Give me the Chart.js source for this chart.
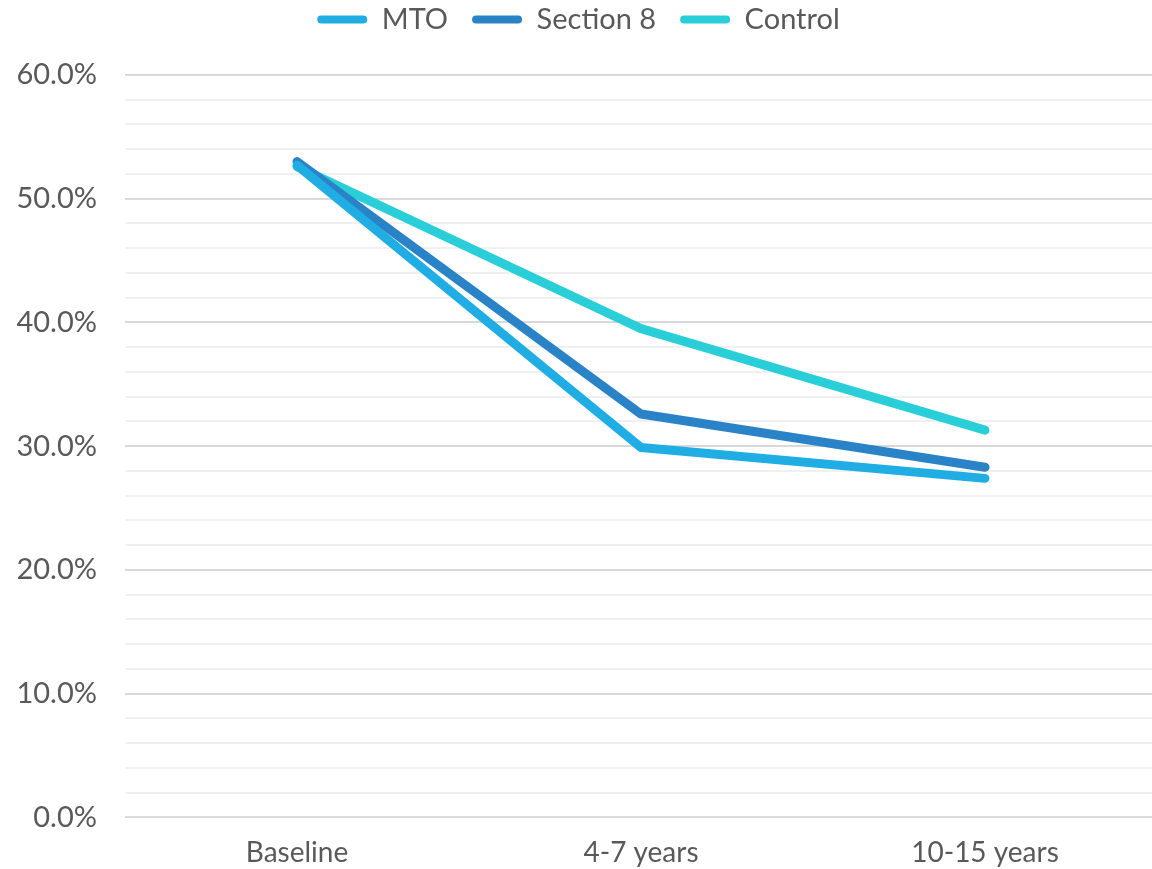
<!DOCTYPE html>
<html>
<head>
<meta charset="utf-8">
<script src="https://cdn.jsdelivr.net/npm/chart.js@4/dist/chart.umd.min.js"></script>
<style>
  html, body { margin: 0; padding: 0; background: #ffffff; overflow: hidden; }
  #wrap { width: 1152px; height: 869px; position: relative; overflow: hidden; }
  #chart { position: absolute; left: 0; top: -20px; }
</style>
</head>
<body>
<div id="wrap"><canvas id="chart" width="1160" height="909"></canvas></div>
<script>
// Share of households at each follow-up point, by voucher group
const categories = ['Baseline', '4-7 years', '10-15 years'];
const mtoValues = [52.7, 29.9, 27.4];
const section8Values = [53.0, 32.6, 28.3];
const controlValues = [52.6, 39.5, 31.3];
const seriesNames = ['MTO', 'Section 8', 'Control'];
const seriesColors = ['#1FADE4', '#2A83C7', '#2ACED9'];

const FONT = 'Lato, "Open Sans", sans-serif';
const TEXT = '#595959';

const ds = [mtoValues, section8Values, controlValues].map((vals, i) => ({
  label: seriesNames[i],
  data: vals,
  borderColor: seriesColors[i],
  backgroundColor: seriesColors[i],
  borderWidth: 9,
  borderCapStyle: 'round',
  borderJoinStyle: 'round',
  pointRadius: 0,
  pointHoverRadius: 0,
  tension: 0,
  fill: false
}));

// extra room below the legend
const legendSpacer = {
  id: 'legendSpacer',
  beforeInit(chart) {
    const fit = chart.legend.fit;
    chart.legend.fit = function () {
      fit.call(this);
      this.height += 31;
    };
  }
};

new Chart(document.getElementById('chart'), {
  type: 'line',
  data: { labels: categories, datasets: ds },
  plugins: [legendSpacer],
  options: {
    responsive: false,
    animation: false,
    devicePixelRatio: 1,
    layout: { padding: { left: 0, right: 3, top: 1, bottom: 0 } },
    plugins: {
      tooltip: { enabled: false },
      legend: {
        position: 'top',
        labels: {
          font: { family: FONT, size: 29 },
          color: TEXT,
          boxWidth: 50,
          boxHeight: 8,
          useBorderRadius: true,
          borderRadius: 4,
          padding: 24,
          generateLabels(chart) {
            return Chart.defaults.plugins.legend.labels.generateLabels(chart)
              .map(item => Object.assign(item, { lineWidth: 0, strokeStyle: 'rgba(0,0,0,0)' }));
          }
        }
      }
    },
    scales: {
      x: {
        offset: true,
        grid: { display: false, drawTicks: false },
        border: { display: false },
        ticks: {
          font: { family: FONT, size: 28 },
          color: TEXT,
          padding: 19
        }
      },
      y: {
        min: 0,
        max: 60,
        border: { display: false },
        afterFit(scale) { scale.width = 125; },
        grid: {
          drawTicks: false,
          lineWidth: 2,
          color: ctx => (ctx.tick && ctx.tick.value % 10 === 0) ? '#d9d9d9' : '#f0f0f0'
        },
        ticks: {
          stepSize: 2,
          autoSkip: false,
          font: { family: FONT, size: 29 },
          color: TEXT,
          padding: 28,
          callback: v => (v % 10 === 0) ? v.toFixed(1) + '%' : ''
        }
      }
    }
  }
});
</script>
</body>
</html>
